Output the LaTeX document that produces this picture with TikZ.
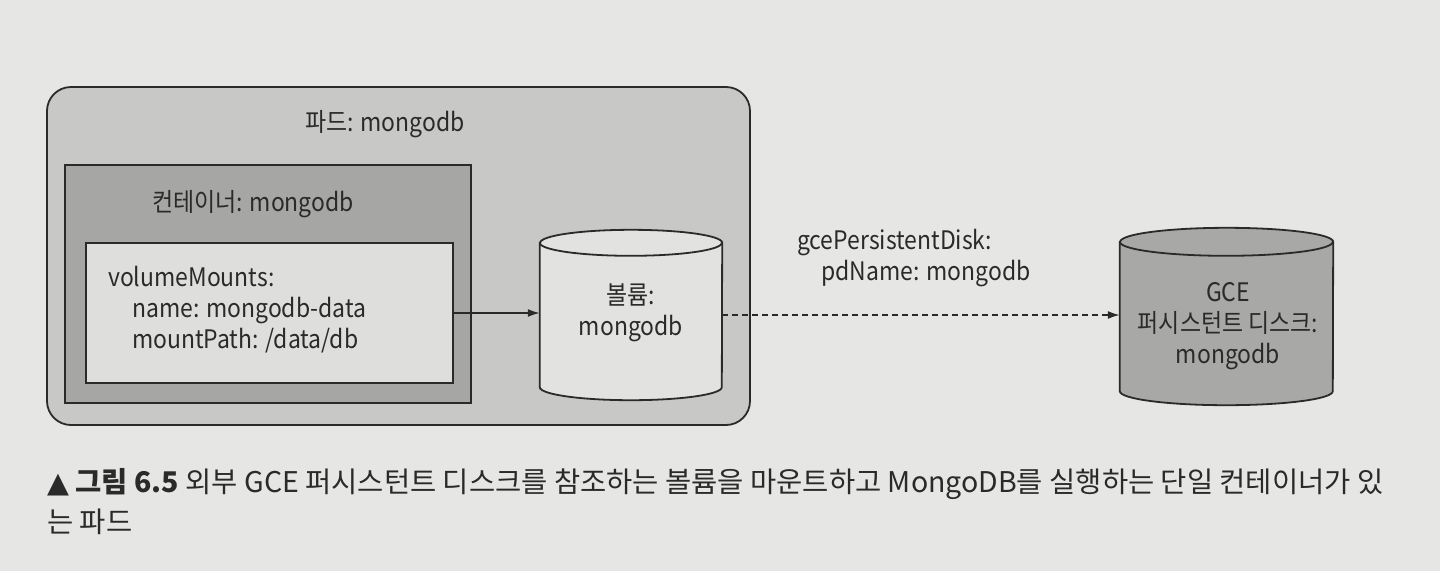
\documentclass[tikz,border=0pt]{standalone}
\usepackage{fontspec}
\setmainfont{Noto Sans CJK KR}[FakeStretch=0.9]
\newfontfamily\capfont{Noto Sans CJK KR}
\newfontfamily\symfont{DejaVu Sans}
\usetikzlibrary{arrows.meta}
\definecolor{pagebg}{HTML}{E6E6E4}
\definecolor{podfill}{HTML}{C8C8C6}
\definecolor{ctrfill}{HTML}{A6A6A4}
\definecolor{innerfill}{HTML}{DEDEDC}
\definecolor{volfill}{HTML}{E2E2E0}
\definecolor{gcefill}{HTML}{A8A8A6}
\definecolor{ink}{HTML}{2A2A2A}
\tikzset{
  box/.style={draw=ink, line width=1.8pt, inner sep=0pt},
  podbox/.style={box, fill=podfill, rounded corners=24pt},
  ctrbox/.style={box, fill=ctrfill},
  innerbox/.style={box, fill=innerfill},
  drumframe/.style={inner sep=0pt},
  drumline/.style={draw=ink, line width=1.8pt},
  lbl/.style={text=ink, inner sep=0pt, font=\fontsize{25.5}{31}\selectfont, align=center},
  arr/.style={draw=ink, line width=1.6pt, -{Latex[length=12pt,width=8pt]}},
  dasharr/.style={arr, dash pattern=on 6pt off 4pt},
}
\begin{document}
\begin{tikzpicture}[x=1pt,y=-1pt]
\fill[pagebg] (0,0) rectangle (1440,571);
\useasboundingbox (0,0) rectangle (1440,571);
\node[podbox, minimum width=703pt, minimum height=338pt] (pod) at (398.5,256) {};
\node[lbl] (podlbl) at (385,124) {파드: mongodb};
\node[ctrbox, minimum width=406pt, minimum height=238pt] (ctr) at (268,284) {};
\node[lbl] (ctrlbl) at (253,204) {컨테이너: mongodb};
\node[innerbox, minimum width=367pt, minimum height=140pt] (inner) at (269.5,313) {};
\node[lbl, anchor=west, align=left] (mounts) at (108,310) {volumeMounts:\\\hspace*{24pt}name: mongodb-data\\\hspace*{24pt}mountPath: /data/db};
% volume cylinder
\node[drumframe, minimum width=182pt, minimum height=170pt] (vol) at (631,315) {};
\path[drumline, fill=volfill] ([yshift=-13pt]vol.north west) -- ([yshift=13pt]vol.south west)
  arc[start angle=180, end angle=360, x radius=91pt, y radius=13pt]
  -- ([yshift=-13pt]vol.north east)
  arc[start angle=0, end angle=180, x radius=91pt, y radius=13pt] -- cycle;
\draw[drumline] ([yshift=-13pt]vol.north west) arc[start angle=180, end angle=360, x radius=91pt, y radius=13pt];
\node[lbl] (vollbl) at (631,313) {볼륨:\\mongodb};
% GCE cylinder
\node[drumframe, minimum width=213pt, minimum height=177pt] (gce) at (1226.5,316.5) {};
\path[drumline, fill=gcefill] ([yshift=-14pt]gce.north west) -- ([yshift=14pt]gce.south west)
  arc[start angle=180, end angle=360, x radius=106.5pt, y radius=14pt]
  -- ([yshift=-14pt]gce.north east)
  arc[start angle=0, end angle=180, x radius=106.5pt, y radius=14pt] -- cycle;
\draw[drumline] ([yshift=-14pt]gce.north west) arc[start angle=180, end angle=360, x radius=106.5pt, y radius=14pt];
\node[lbl] (gcelbl) at (1228,326) {GCE\\퍼시스턴트 디스크:\\mongodb};
\node[lbl, anchor=west, align=left] (pdlbl) at (797,258) {gcePersistentDisk:\\\hspace*{24pt}pdName: mongodb};
\draw[arr] (inner.east) -- (inner.east -| vol.west);
\draw[dasharr] (vol.east) -- (vol.east -| gce.west);
\node[text=ink, inner sep=0pt, anchor=west, align=left, font=\capfont\fontsize{28.5}{40}\selectfont] (caption) at (47,502) {{\symfont ▲} \textbf{그림 6.5} 외부 GCE 퍼시스턴트 디스크를 참조하는 볼륨을 마운트하고 MongoDB를 실행하는 단일 컨테이너가 있\\는 파드};
\end{tikzpicture}
\end{document}
